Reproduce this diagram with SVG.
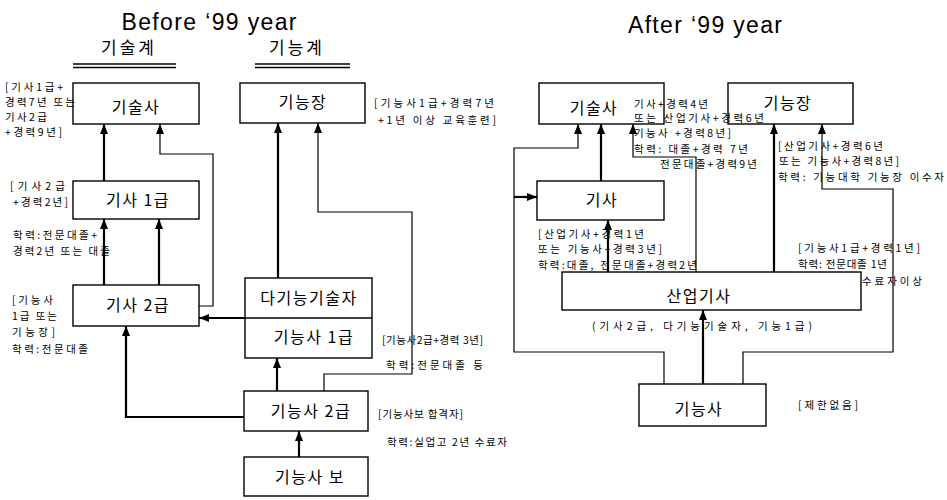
<svg xmlns="http://www.w3.org/2000/svg" width="947" height="500" viewBox="0 0 947 500">
<style>
.bg{fill:#fff}
.box{fill:#fff;stroke:#000;stroke-width:1.4}
.t{font-family:"Noto Sans CJK KR","Noto Sans",sans-serif;font-size:16px;fill:#000;text-anchor:middle;letter-spacing:1.5px}
.lb{font-family:"Noto Sans CJK KR","Noto Sans",sans-serif;font-size:10.5px;fill:#000}
.ttl{font-family:"Liberation Sans",Arial,sans-serif;font-size:23px;fill:#000;text-anchor:middle}
.hd{font-family:"Noto Sans CJK KR","Noto Sans",sans-serif;font-size:17px;fill:#000;text-anchor:middle;letter-spacing:3px}
.thick{fill:none;stroke:#000;stroke-width:2.2}
.thin{fill:none;stroke:#000;stroke-width:1.2}
.ul{stroke:#000;stroke-width:1.6}
</style>
<defs>
<marker id="ah" viewBox="0 0 10 8" refX="10" refY="4" markerWidth="10" markerHeight="8" markerUnits="userSpaceOnUse" orient="auto"><path d="M0,0 L10,4 L0,8 z" fill="#000"/></marker>
</defs>
<rect class="bg" x="0" y="0" width="947" height="500"/>

<g id="titles">
<text class="ttl" x="209" y="30" textLength="175">Before ‘99 year</text>
<text class="ttl" x="705" y="33" textLength="154">After ‘99 year</text>
<text class="hd" x="129" y="54">기술계</text>
<text class="hd" x="297" y="54">기능계</text>
<line class="ul" x1="73" y1="64" x2="176" y2="64"/>
<line class="ul" x1="73" y1="67.5" x2="176" y2="67.5"/>
<line class="ul" x1="255" y1="64" x2="350" y2="64"/>
<line class="ul" x1="255" y1="67.5" x2="350" y2="67.5"/>
</g>

<g id="connectors">
<path class="thick" d="M104,181 V124" marker-end="url(#ah)"/>
<path class="thin" d="M199,306 H213 V154 H160 V124" marker-end="url(#ah)"/>
<path class="thick" d="M104,285 V219" marker-end="url(#ah)"/>
<path class="thick" d="M159,285 V219" marker-end="url(#ah)"/>
<path class="thick" d="M245,318 H199" marker-end="url(#ah)"/>
<path class="thick" d="M244,417 H126 V326" marker-end="url(#ah)"/>
<path class="thick" d="M278,278 V123" marker-end="url(#ah)"/>
<path class="thin" d="M324,391 V374 H412 V212 H318 V123" marker-end="url(#ah)"/>
<path class="thick" d="M277,391 V358" marker-end="url(#ah)"/>
<path class="thick" d="M299,457 V431" marker-end="url(#ah)"/>

<path class="thick" d="M601,181 V124" marker-end="url(#ah)"/>
<path class="thin" d="M664,384 V352 H514 V148 H578 V124" marker-end="url(#ah)"/>
<path class="thick" d="M514,197 H537" marker-end="url(#ah)"/>
<path class="thin" d="M696,272 V157 H633 V124" marker-end="url(#ah)"/>
<path class="thick" d="M608,272 V220" marker-end="url(#ah)"/>
<path class="thick" d="M774,272 V124" marker-end="url(#ah)"/>
<path class="thin" d="M743,384 V352 H893 V189 H822 V124" marker-end="url(#ah)"/>
<path class="thick" d="M703,384 V310" marker-end="url(#ah)"/>
</g>

<g id="n-left-gisulsa">
<rect class="box" x="73" y="83" width="126" height="41"/>
<text class="t" x="136" y="113">기술사</text>
</g>
<g id="n-left-gineungjang">
<rect class="box" x="240" y="83" width="125" height="40"/>
<text class="t" x="303" y="108">기능장</text>
</g>
<g id="n-gisa1">
<rect class="box" x="73" y="181" width="126" height="38"/>
<text class="t" x="138" y="206">기사 1급</text>
</g>
<g id="n-gisa2">
<rect class="box" x="73" y="285" width="126" height="41"/>
<text class="t" x="138" y="311">기사 2급</text>
</g>
<g id="n-dagineung">
<rect class="box" x="245" y="278" width="127" height="80"/>
<line x1="245" y1="318" x2="372" y2="318" stroke="#000" stroke-width="1.4"/>
<text class="t" x="309" y="304">다기능기술자</text>
<text class="t" x="314" y="343">기능사 1급</text>
</g>
<g id="n-gineungsa2">
<rect class="box" x="244" y="391" width="124" height="40"/>
<text class="t" x="311" y="417">기능사 2급</text>
</g>
<g id="n-gineungsabo">
<rect class="box" x="244" y="457" width="124" height="39"/>
<text class="t" x="310" y="483">기능사 보</text>
</g>

<g id="n-right-gisulsa">
<rect class="box" x="539" y="83" width="125" height="41"/>
<text class="t" x="594" y="114">기술사</text>
</g>
<g id="n-right-gineungjang">
<rect class="box" x="728" y="83" width="125" height="41"/>
<text class="t" x="788" y="109">기능장</text>
</g>
<g id="n-gisa">
<rect class="box" x="537" y="181" width="127" height="39"/>
<text class="t" x="602" y="206">기사</text>
</g>
<g id="n-saneopgisa">
<rect class="box" x="562" y="272" width="299" height="38"/>
<text class="t" x="699" y="302">산업기사</text>
</g>
<g id="n-gineungsa">
<rect class="box" x="639" y="384" width="127" height="42"/>
<text class="t" x="699" y="415">기능사</text>
</g>

<g id="labels">
<text class="lb" x="5" y="91" textLength="58" lengthAdjust="spacing">[기사1급+</text>
<text class="lb" x="5" y="106" textLength="70" lengthAdjust="spacing">경력7년 또는</text>
<text class="lb" x="5" y="121" textLength="42" lengthAdjust="spacing">기사2급</text>
<text class="lb" x="5" y="136" textLength="57" lengthAdjust="spacing">+경력9년]</text>
<text class="lb" x="10" y="190" textLength="55" lengthAdjust="spacing">[기사2급</text>
<text class="lb" x="13" y="206" textLength="55" lengthAdjust="spacing">+경력2년]</text>
<text class="lb" x="13" y="239" textLength="84" lengthAdjust="spacing">학력:전문대졸+</text>
<text class="lb" x="13" y="255" textLength="97" lengthAdjust="spacing">경력2년 또는 대졸</text>
<text class="lb" x="12" y="304" textLength="41" lengthAdjust="spacing">[기능사</text>
<text class="lb" x="12" y="320" textLength="45" lengthAdjust="spacing">1급 또는</text>
<text class="lb" x="12" y="336" textLength="43" lengthAdjust="spacing">기능장]</text>
<text class="lb" x="12" y="353" textLength="76" lengthAdjust="spacing">학력:전문대졸</text>
<text class="lb" x="374" y="107" textLength="120" lengthAdjust="spacing">[기능사1급+경력7년</text>
<text class="lb" x="378" y="124" textLength="118" lengthAdjust="spacing">+1년 이상 교육훈련]</text>
<text class="lb" x="382" y="344" textLength="101" lengthAdjust="spacing">[기능사2급+경력 3년]</text>
<text class="lb" x="386" y="369" textLength="97" lengthAdjust="spacing">학력:전문대졸 등</text>
<text class="lb" x="378" y="418" textLength="85" lengthAdjust="spacing">[기능사보 합격자]</text>
<text class="lb" x="387" y="446" textLength="120" lengthAdjust="spacing">학력:실업고 2년 수료자</text>

<text class="lb" x="634" y="108" textLength="74" lengthAdjust="spacing">기사+경력4년</text>
<text class="lb" x="634" y="122" textLength="130" lengthAdjust="spacing">또는 산업기사+경력6년</text>
<text class="lb" x="634" y="137" textLength="97" lengthAdjust="spacing">기능사 +경력8년]</text>
<text class="lb" x="634" y="153" textLength="114" lengthAdjust="spacing">학력: 대졸+경력 7년</text>
<text class="lb" x="660" y="168" textLength="97" lengthAdjust="spacing">전문대졸+경력9년</text>
<text class="lb" x="778" y="150" textLength="105" lengthAdjust="spacing">[산업기사+경력6년</text>
<text class="lb" x="779" y="165" textLength="120" lengthAdjust="spacing">또는 기능사+경력8년]</text>
<text class="lb" x="778" y="181" textLength="166" lengthAdjust="spacing">학력: 기능대학 기능장 이수자</text>
<text class="lb" x="538" y="238" textLength="106" lengthAdjust="spacing">[산업기사+경력1년</text>
<text class="lb" x="538" y="253" textLength="124" lengthAdjust="spacing">또는 기능사+경력3년]</text>
<text class="lb" x="538" y="269" textLength="159" lengthAdjust="spacing">학력:대졸, 전문대졸+경력2년</text>
<text class="lb" x="798" y="252" textLength="122" lengthAdjust="spacing">[기능사1급+경력1년]</text>
<text class="lb" x="798" y="268" textLength="89" lengthAdjust="spacing">학력: 전문대졸 1년</text>
<text class="lb" x="862" y="285" textLength="60" lengthAdjust="spacing">수료자이상</text>
<text class="lb" x="592" y="330" font-size="12" textLength="220" lengthAdjust="spacing">(기사2급, 다기능기술자, 기능1급)</text>
<text class="lb" x="798" y="409" textLength="60" lengthAdjust="spacing">[제한없음]</text>
</g>
</svg>
